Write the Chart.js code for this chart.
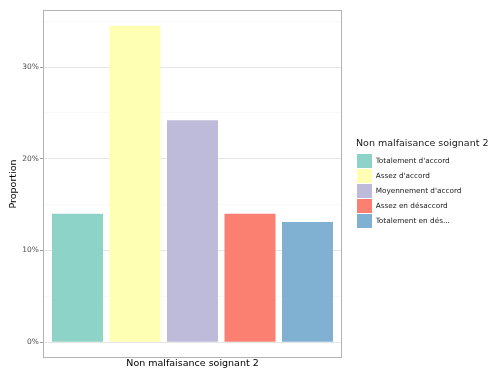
<!DOCTYPE html>
<html><head><meta charset="utf-8">
<script src="https://cdn.jsdelivr.net/npm/chart.js@4"></script>
<style>html,body{margin:0;padding:0;background:#fff}#wrap{width:491px;height:370px}</style>
</head><body><div id="wrap"><canvas id="c" width="491" height="370"></canvas></div>
<script>
const categories = ["Totalement d'accord", "Assez d'accord", "Moyennement d'accord", "Assez en désaccord", "Totalement en dés..."];
const proportions = [14.0, 34.5, 24.2, 14.0, 13.1];
const colors = ['#8DD3C7', '#FFFFB3', '#BEBADA', '#FB8072', '#80B1D3'];
const yTickLabels = [0, 10, 20, 30];
const xTitle = 'Non malfaisance soignant 2';
const yTitle = 'Proportion';
const legendTitle = 'Non malfaisance soignant 2';

const FAMILY = "'DejaVu Sans', sans-serif";
const yMax = Math.max(...proportions);

const panelBorder = {
  id: 'panelBorder',
  afterDatasetsDraw(chart) {
    const {ctx, chartArea: a} = chart;
    ctx.save();
    ctx.strokeStyle = '#b3b3b3';
    ctx.lineWidth = 1;
    ctx.strokeRect(a.left + 0.5, a.top + 0.5, a.right - a.left - 1, a.bottom - a.top - 1);
    ctx.restore();
  }
};

const legendLayout = {
  id: 'legendLayout',
  beforeLayout(chart) {
    const lg = chart.legend;
    if (lg && !lg._fixedFit) {
      const f = lg.fit;
      lg.fit = function () { f.apply(this, arguments); this.width = 149; };
      lg._fixedFit = true;
    }
  },
  afterLayout(chart) {
    const lg = chart.legend;
    if (lg) {
      lg.left = chart.chartArea.right + 14;
      lg.right = chart.width;
      lg.width = lg.right - lg.left;
    }
  }
};

new Chart(document.getElementById('c'), {
  type: 'bar',
  data: {
    labels: [''],
    datasets: categories.map((c, i) => ({
      label: c,
      data: [proportions[i]],
      backgroundColor: colors[i],
      borderWidth: 0,
      categoryPercentage: 0.9615,
      barPercentage: 0.887
    }))
  },
  options: {
    responsive: false,
    devicePixelRatio: 1,
    animation: false,
    layout: {padding: {top: 10, right: 0, bottom: 0, left: 0}},
    plugins: {
      tooltip: {enabled: false},
      legend: {
        position: 'right',
        align: 'center',
        fullSize: false,
        title: {
          display: true, text: legendTitle, position: 'start', color: '#1a1a1a',
          font: {family: FAMILY, size: 9.5, lineHeight: 1.2},
          padding: {top: 0, bottom: 2.6}
        },
        labels: {
          boxWidth: 15, boxHeight: 14, padding: 1, color: '#1a1a1a',
          font: {family: FAMILY, size: 7.3}
        }
      }
    },
    scales: {
      x: {
        type: 'category',
        grid: {display: false},
        border: {display: false},
        ticks: {display: false},
        title: {
          display: true, text: xTitle, color: '#000',
          font: {family: FAMILY, size: 9.5, lineHeight: 1.2},
          padding: {top: 0, bottom: 1}
        },
        afterFit(s) { s.height = 12; }
      },
      y: {
        min: -yMax * 0.05,
        max: yMax * 1.05,
        border: {display: false},
        grid: {
          drawTicks: true,
          tickLength: 3,
          color: c => (c.tick && yTickLabels.includes(c.tick.value)) ? '#e6e6e6' : '#f3f3f3',
          lineWidth: c => (c.tick && yTickLabels.includes(c.tick.value)) ? 1 : 0.6,
          tickColor: c => (c.tick && yTickLabels.includes(c.tick.value)) ? '#999999' : 'rgba(0,0,0,0)'
        },
        ticks: {
          stepSize: 5,
          includeBounds: false,
          padding: 1,
          color: '#4d4d4d',
          font: {family: FAMILY, size: 7.5},
          callback: v => yTickLabels.includes(v) ? v + '%' : ''
        },
        title: {
          display: true, text: yTitle, color: '#000',
          font: {family: FAMILY, size: 9.5, lineHeight: 1.2},
          padding: {top: 8, bottom: 0}
        },
        afterFit(s) { s.width = 43; }
      }
    }
  },
  plugins: [panelBorder, legendLayout]
});
</script>
</body></html>
